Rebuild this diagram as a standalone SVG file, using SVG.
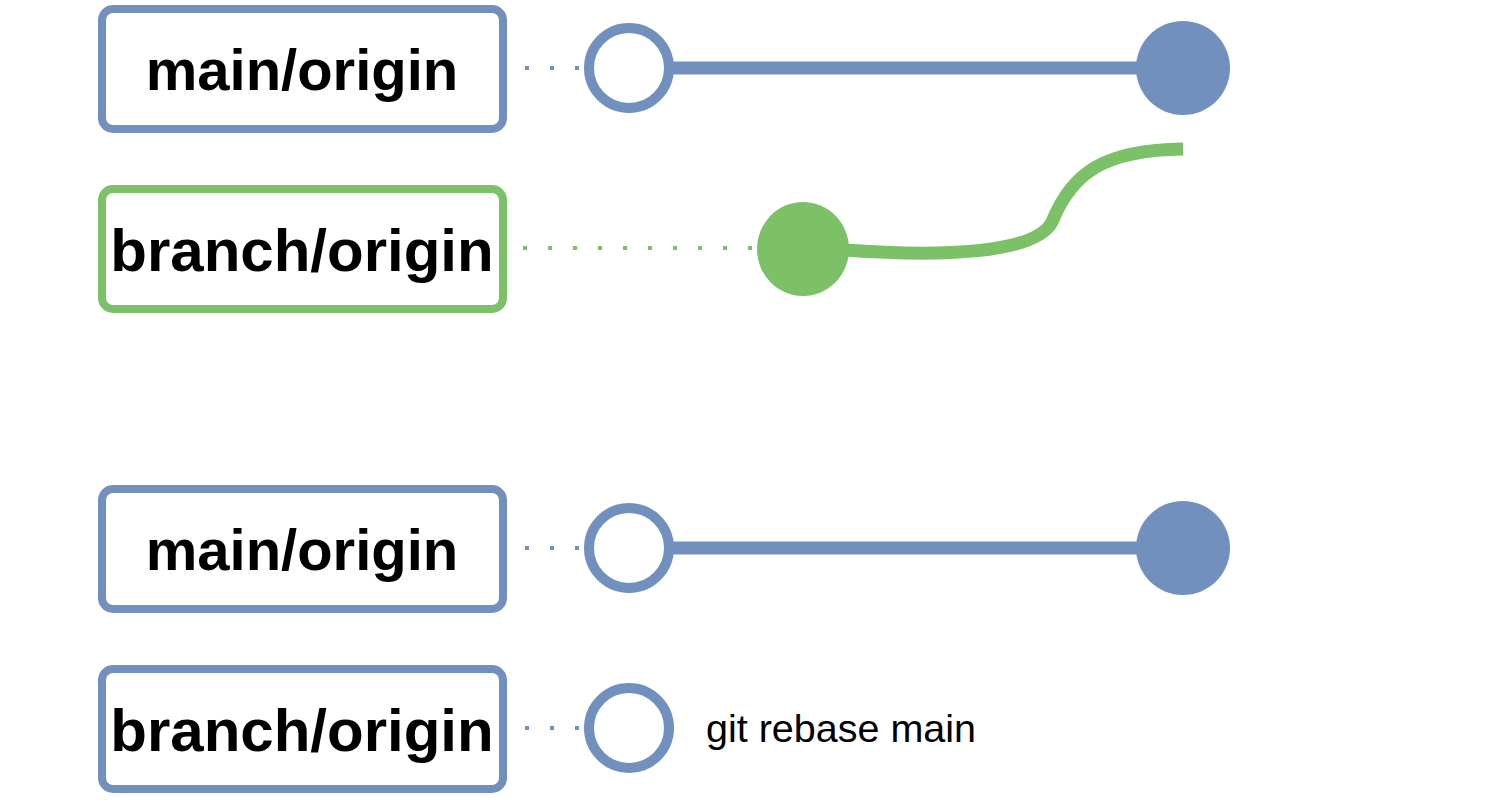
<svg xmlns="http://www.w3.org/2000/svg" width="1498" height="802" viewBox="0 0 1498 802">
<style>
.box{fill:#fff;stroke-width:8}
.b{stroke:#7290BD}
.g{stroke:#7CC068}
.lbl{font-family:"Liberation Sans",Arial,sans-serif;font-weight:bold;font-size:60px;fill:#000;text-anchor:middle}
.m{font-size:58px}
.dot{fill:none;stroke-width:4;stroke-dasharray:4 21}
.ring{fill:#fff;stroke:#7290BD;stroke-width:10}
.line{fill:none;stroke-width:13}
</style>
<rect width="1498" height="802" fill="#fff"/>
<g id="connectors">
<line class="dot b" x1="525" y1="68" x2="584" y2="68"/>
<line class="line b" x1="672" y1="68" x2="1140" y2="68"/>
<line class="dot g" x1="523" y1="248" x2="756" y2="248"/>
<path class="line g" d="M 845 250 C 940 257 1035 254 1052 222 C 1072 172 1105 150 1183 149"/>
<line class="dot b" x1="525" y1="548" x2="584" y2="548"/>
<line class="line b" x1="672" y1="548" x2="1140" y2="548"/>
<line class="dot b" x1="525" y1="728" x2="584" y2="728"/>
</g>
<g id="main1">
<rect class="box b" x="102" y="9" width="401" height="120" rx="11"/>
<text class="lbl m" x="302" y="90">main/origin</text>
</g>
<g id="branch1">
<rect class="box g" x="102" y="189" width="401" height="120" rx="11"/>
<text class="lbl" x="302" y="271">branch/origin</text>
</g>
<g id="main2">
<rect class="box b" x="102" y="489" width="401" height="120" rx="11"/>
<text class="lbl m" x="302" y="570">main/origin</text>
</g>
<g id="branch2">
<rect class="box b" x="102" y="669" width="401" height="120" rx="11"/>
<text class="lbl" x="302" y="751">branch/origin</text>
</g>
<g id="c1"><circle class="ring" cx="629" cy="68" r="40"/></g>
<g id="c2"><circle cx="1183" cy="68" r="47" fill="#7290BD"/></g>
<g id="c3"><ellipse cx="803" cy="249" rx="46" ry="47" fill="#7CC068"/></g>
<g id="c4"><circle class="ring" cx="629" cy="548" r="40"/></g>
<g id="c5"><circle cx="1183" cy="548" r="47" fill="#7290BD"/></g>
<g id="c6"><circle class="ring" cx="629" cy="728" r="40"/></g>
<text x="706" y="742" font-family="'Liberation Sans',Arial,sans-serif" font-size="39.5" fill="#000">git rebase main</text>
</svg>
